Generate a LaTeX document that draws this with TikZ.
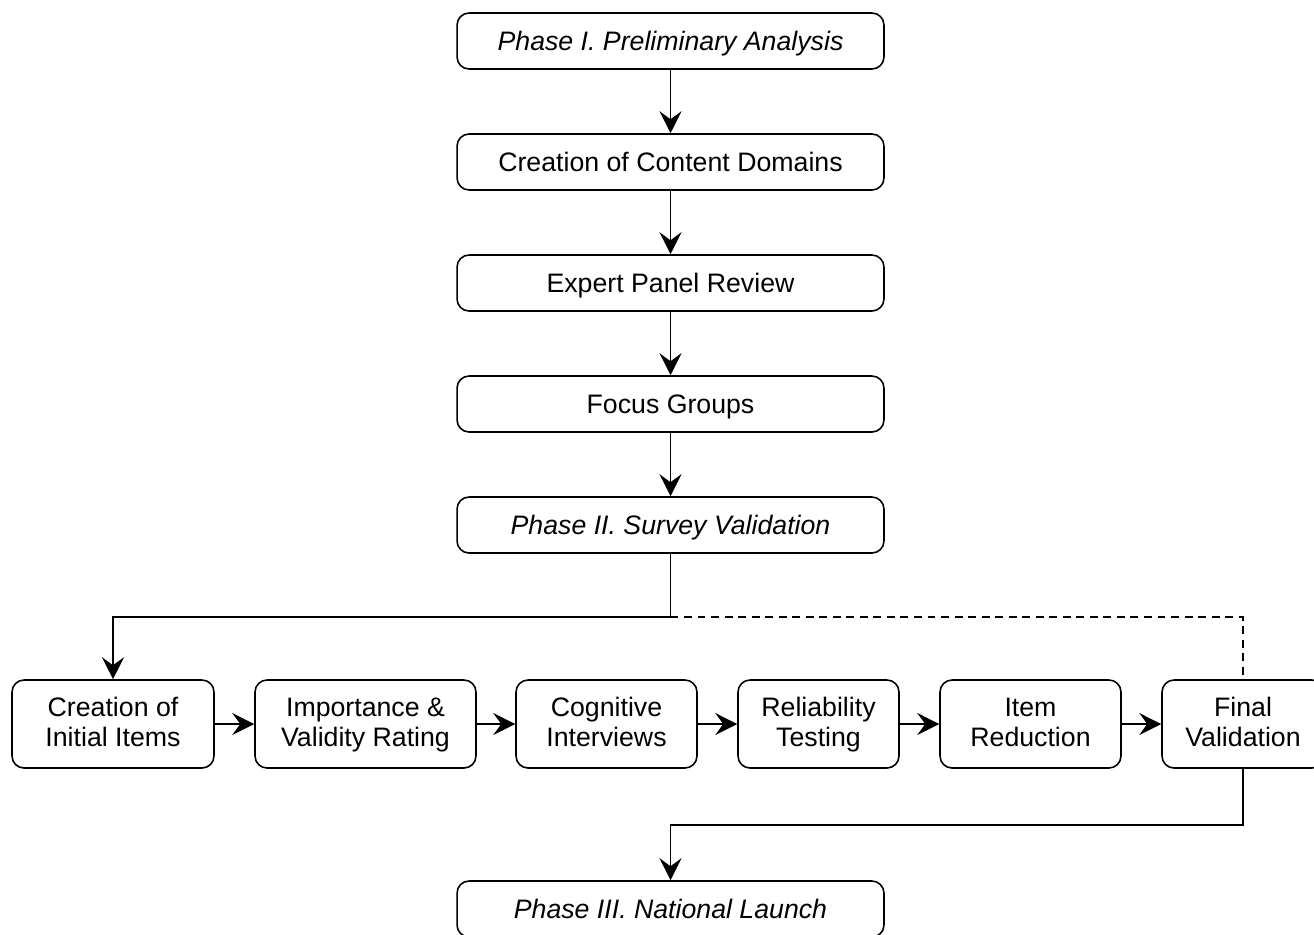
\documentclass[tikz,border=0pt]{standalone}
\usepackage{fontspec}
\setmainfont{Liberation Sans}
\usetikzlibrary{arrows.meta}
\newcommand{\twolines}[2]{\rule{0pt}{13.8pt}#1\\\strut#2}
\tikzset{
  box/.style = {draw, rounded corners = 0.24cm, line width = 0.9pt, align = center,
    inner sep = 0pt, font = \fontsize{15.2}{17.6}\selectfont},
  phase/.style = {box, minimum width = 8.54cm, minimum height = 1.12cm,
    text height = 12.4pt, text depth = 2pt},
  stage/.style = {box, minimum height = 1.76cm},
  arr/.style = {line width = 0.9pt, -{Stealth[length = 4.4mm, width = 4.4mm, inset = 1.6mm]}},
  link/.style = {line width = 0.9pt, dash pattern = on 4.5pt off 3.2pt}
}
\begin{document}
\begin{tikzpicture}[x = 0.02cm, y = -0.02cm]
\clip (0,0) rectangle (1314,934);
% main column
\node[phase, font = \fontsize{15.2}{17.6}\selectfont\itshape] (pre) at (670.5,41) {Phase I. Preliminary Analysis};
\node[phase] (dom) at (670.5,162) {Creation of Content Domains};
\node[phase] (exp) at (670.5,283) {Expert Panel Review};
\node[phase] (foc) at (670.5,404) {Focus Groups};
\node[phase, font = \fontsize{15.2}{17.6}\selectfont\itshape] (val) at (670.5,525) {Phase II. Survey Validation};
\draw[arr] (pre) -- (dom);
\draw[arr] (dom) -- (exp);
\draw[arr] (exp) -- (foc);
\draw[arr] (foc) -- (val);
% survey validation steps
\node[stage, minimum width = 4.04cm] (ini) at (113,724) {\twolines{Creation of}{Initial Items}};
\node[stage, minimum width = 4.42cm] (imp) at (365.5,724) {\twolines{Importance \&}{Validity Rating}};
\node[stage, minimum width = 3.62cm] (cog) at (606.5,724) {\twolines{Cognitive}{Interviews}};
\node[stage, minimum width = 3.22cm] (rel) at (818.5,724) {\twolines{Reliability}{Testing}};
\node[stage, minimum width = 3.62cm] (red) at (1030.5,724) {\twolines{Item}{Reduction}};
\node[stage, minimum width = 3.24cm] (fin) at (1243,724) {\twolines{Final}{Validation}};
\draw[arr] (ini) -- (imp);
\draw[arr] (imp) -- (cog);
\draw[arr] (cog) -- (rel);
\draw[arr] (rel) -- (red);
\draw[arr] (red) -- (fin);
\coordinate (split) at (670.5,617);
\draw[arr] (val.south) -- (split) -| (ini.north);
\draw[link] (split) -| (fin.north);
% national launch
\node[phase, font = \fontsize{15.2}{17.6}\selectfont\itshape] (nat) at (670.5,909) {Phase III. National Launch};
\coordinate (join) at (1243,825);
\draw[arr] (fin.south) -- (join) -| (nat.north);
\end{tikzpicture}
\end{document}
